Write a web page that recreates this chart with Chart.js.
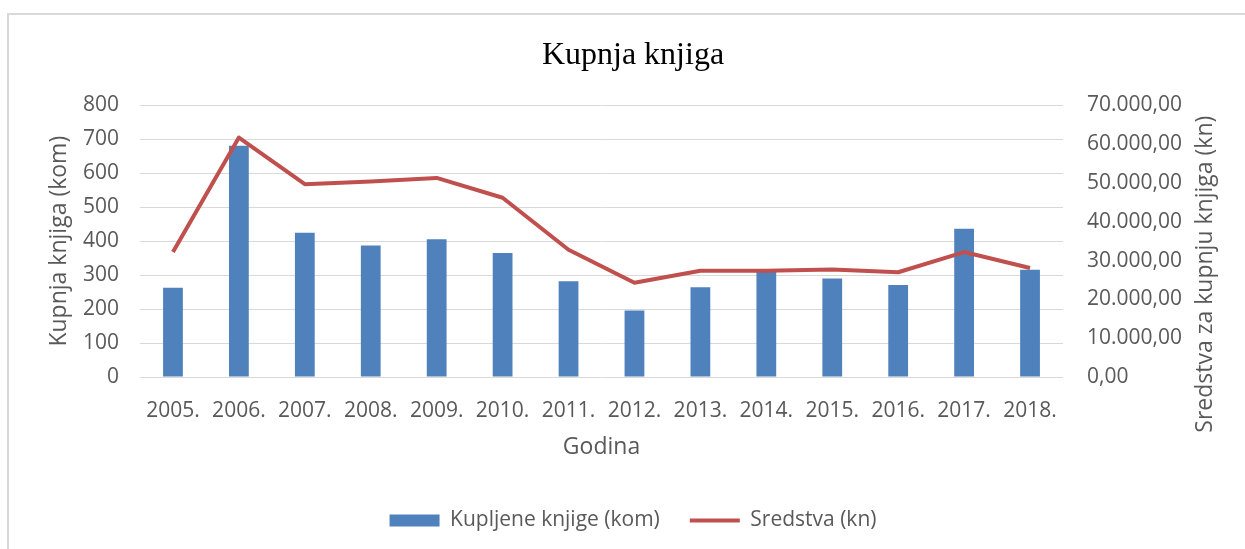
<!DOCTYPE html>
<html>
<head>
<meta charset="utf-8">
<script src="https://cdn.jsdelivr.net/npm/chart.js@4"></script>
<style>
    body { margin: 0; background: #fff; }
    #frame {
        position: absolute; left: 7px; top: 13px;
        width: 1300px; height: 600px;
        border: 2px solid #d9d9d9;
    }
    #wrap { position: absolute; left: 0; top: 0; width: 1245px; height: 549px; }
</style>
</head>
<body>
<div id="frame"></div>
<div id="wrap"><canvas id="booksChart" width="1245" height="549"></canvas></div>
<script>
const years = ['2005.', '2006.', '2007.', '2008.', '2009.', '2010.', '2011.',
    '2012.', '2013.', '2014.', '2015.', '2016.', '2017.', '2018.'];
const booksBought = [263, 681, 425, 387, 406, 365, 282, 196, 264, 310, 290, 271, 437, 316];
const funds = [32200, 61700, 49700, 50400, 51300, 46200, 32800, 24300, 27400, 27400, 27700, 27000, 32200, 28100];

const grey = '#595959';
const tickFont = { family: 'Open Sans', size: 21 };
const axisTitleFont = { family: 'Open Sans', size: 23 };

// 70000 -> "70.000,00"
function formatKn(v) {
    const parts = Math.round(v).toString().replace(/\B(?=(\d{3})+(?!\d))/g, '.');
    return parts + ',00';
}

// right axis title reads bottom-to-top like the left one
const rightTitle = {
    id: 'rightTitle',
    afterDraw(chart) {
        const c = chart.ctx;
        const area = chart.chartArea;
        const s = chart.scales.y1;
        c.save();
        c.translate(s.left + 142, (area.top + area.bottom) / 2 + 33);
        c.rotate(-Math.PI / 2);
        c.font = axisTitleFont.size + 'px "' + axisTitleFont.family + '"';
        c.fillStyle = grey;
        c.textAlign = 'center';
        c.textBaseline = 'middle';
        c.fillText('Sredstva za kupnju knjiga (kn)', 0, 0);
        c.restore();
    }
};

const ctx = document.getElementById('booksChart').getContext('2d');
new Chart(ctx, {
    data: {
        labels: years,
        datasets: [{
            type: 'bar',
            label: 'Kupljene knjige (kom)',
            data: booksBought,
            backgroundColor: '#4f81bd',
            borderWidth: 0,
            barPercentage: 0.3,
            categoryPercentage: 1,
            pointStyle: 'rect',
            yAxisID: 'y',
            order: 2
        }, {
            type: 'line',
            label: 'Sredstva (kn)',
            data: funds,
            borderColor: '#c0504d',
            backgroundColor: '#c0504d',
            borderWidth: 4,
            pointRadius: 0,
            pointStyle: 'line',
            tension: 0,
            borderJoinStyle: 'round',
            yAxisID: 'y1',
            order: 1
        }]
    },
    options: {
        responsive: false,
        animation: false,
        layout: { padding: { left: 46, right: 25, top: 0, bottom: 8 } },
        plugins: {
            title: {
                display: true,
                text: 'Kupnja knjiga',
                color: '#000',
                font: { family: 'Liberation Serif', size: 32, weight: 'normal' },
                padding: { top: 36, bottom: 31 }
            },
            legend: {
                position: 'bottom',
                labels: {
                    usePointStyle: true,
                    pointStyleWidth: 50,
                    boxHeight: 12,
                    padding: 30,
                    color: grey,
                    font: tickFont,
                    sort: (a, b) => a.datasetIndex - b.datasetIndex
                }
            },
            tooltip: { enabled: false }
        },
        scales: {
            x: {
                grid: { display: false, drawTicks: false },
                border: { display: false },
                ticks: { color: grey, font: tickFont, padding: 21, maxRotation: 0, autoSkip: false },
                title: {
                    display: true, text: 'Godina', color: grey,
                    font: axisTitleFont,
                    padding: { top: 0, bottom: 19 }
                },
                afterFit: (scale) => { scale.height = 103; }
            },
            y: {
                position: 'left',
                min: 0, max: 800,
                grid: { color: '#d9d9d9', lineWidth: 1, drawTicks: false },
                border: { display: false },
                ticks: { stepSize: 100, color: grey, font: tickFont, padding: 21 },
                title: {
                    display: true, text: 'Kupnja knjiga (kom)', color: grey,
                    font: axisTitleFont,
                    padding: { top: 0, bottom: 10 }
                },
                afterFit: (scale) => { scale.width = 94; }
            },
            y1: {
                position: 'right',
                min: 0, max: 70000,
                grid: { drawOnChartArea: false, drawTicks: false },
                border: { display: false },
                ticks: { stepSize: 10000, color: grey, font: tickFont, padding: 24, callback: formatKn },
                afterFit: (scale) => { scale.width = 157; }
            }
        }
    },
    plugins: [rightTitle]
});
</script>
</body>
</html>
